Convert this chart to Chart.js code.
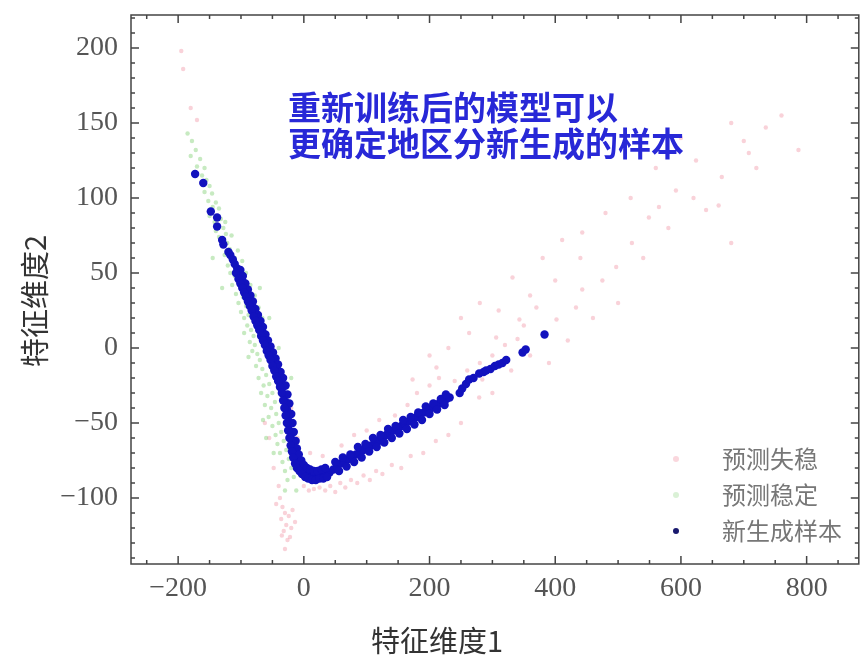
<!DOCTYPE html>
<html>
<head>
<meta charset="utf-8">
<script src="https://cdn.jsdelivr.net/npm/chart.js@4.4.0/dist/chart.umd.min.js"></script>
<style>
  html, body { margin: 0; padding: 0; background: #fff; }
  #wrap { position: relative; width: 863px; height: 656px; }
</style>
</head>
<body>
<div id="wrap"><canvas id="chart"></canvas></div>
<script>
// t-SNE style scatter: retrained model vs. newly generated samples

const seriesLabels = ['预测失稳', '预测稳定', '新生成样本'];
const xTickValues = [-200, 0, 200, 400, 600, 800];
const yTickValues = [-100, -50, 0, 50, 100, 150, 200];
const xTitle = '特征维度1';
const yTitle = '特征维度2';
const noteLines = ['重新训练后的模型可以', '更确定地区分新生成的样本'];

// 预测失稳 (pale red)
const unstablePoints = [
  [-195, 198], [-192, 186], [-170, 152], [-180, 160],
  [-38, -100], [-34, -106], [-30, -110], [-36, -114], [-28, -118], [-32, -122], [-24, -112],
  [-20, -120], [-26, -128], [-30, -134], [-18, -108], [-40, -92], [-22, -126], [-35, -125],
  [-14, -116], [-44, -104],
  [0, -92], [8, -95], [16, -94], [25, -93], [34, -95], [42, -92], [50, -96], [58, -90],
  [66, -93], [75, -88], [85, -90], [95, -85], [105, -88], [115, -82], [125, -84], [140, -78],
  [155, -80], [170, -72], [190, -70], [210, -62], [230, -58], [250, -50],
  [60, -65], [80, -58], [100, -55], [120, -48], [145, -45], [165, -38], [180, -30], [200, -25],
  [215, -20], [240, -22], [260, -15], [280, -10], [300, -5], [320, 2], [340, 6],
  [-55, -60], [-62, -50], [-48, -80], [-20, -40], [-10, -60], [10, -70], [30, -72],
  [173, -21], [211, -13], [263, 10], [279, -33], [284, -21], [306, 7], [332, 47], [343, 19],
  [370, 27], [402, 19], [411, 72], [433, 27], [443, 39], [475, 45], [443, 77], [497, 54],
  [522, 70], [549, 87], [565, 94], [592, 105], [624, 125], [640, 92], [665, 114], [708, 130],
  [735, 147], [700, 138], [787, 132], [760, 155], [680, 150], [600, 140], [560, 120], [520, 100],
  [480, 90], [440, 60], [400, 45], [380, 60], [360, 35], [420, 5], [460, 20], [500, 30],
  [540, 60], [580, 80], [620, 100], [660, 95], [720, 120], [680, 70], [300, -30], [330, -15],
  [360, -5], [390, -10], [350, 15], [310, 25], [280, 30], [250, 20], [230, 0], [200, -5]
];

// 预测稳定 (pale green)
const stablePoints = [
  [-185, 143], [-178, 138], [-172, 132], [-180, 128], [-165, 126], [-170, 121], [-158, 120],
  [-162, 115], [-155, 112], [-150, 108], [-158, 104], [-146, 103], [-152, 98], [-140, 97],
  [-145, 94], [-135, 93], [-150, 88], [-142, 84], [-132, 86], [-128, 80], [-140, 78],
  [-135, 74], [-124, 76], [-130, 68], [-122, 70], [-118, 66], [-126, 62], [-115, 58],
  [-121, 55], [-110, 60],
  [-117, 50], [-110, 48], [-105, 44], [-114, 42], [-100, 40], [-108, 36], [-97, 34],
  [-104, 30], [-92, 28], [-100, 24], [-95, 20], [-88, 22], [-90, 15], [-84, 12], [-95, 10],
  [-80, 8], [-86, 4], [-78, 2], [-82, -2], [-74, -4], [-88, -6],
  [-70, -8], [-76, -12], [-66, -14], [-72, -20], [-60, -18], [-64, -25], [-55, -24],
  [-68, -30], [-58, -32], [-50, -30], [-62, -38], [-52, -40], [-46, -36], [-56, -46],
  [-44, -44], [-50, -52], [-40, -50], [-45, -58], [-36, -56], [-42, -64], [-32, -62],
  [-38, -70], [-28, -68], [-34, -76], [-24, -74], [-30, -82], [-20, -80], [-26, -88], [-16, -86],
  [-60, -60], [-65, -48], [-48, -70], [-30, -95], [-12, -95], [-70, 40], [-55, 20], [-40, 0],
  [-20, -20], [-130, 40], [-145, 60],
  [-125, 84], [-115, 75], [-105, 65], [-98, 58], [-92, 50], [-85, 42], [-78, 35], [-72, 27], [-66, 20]
];

// 新生成样本 (blue)
const newSamples = [
  [-173, 116], [-160, 110], [-148, 91], [-138, 87], [-138, 81], [-130, 72], [-128, 69],
  [-120, 64], [-117, 62], [-113, 59], [-110, 56],
  [-106, 53], [-103, 50], [-100, 47], [-98, 45], [-95, 42], [-92, 38], [-90, 36], [-87, 33],
  [-84, 30], [-82, 28], [-79, 25], [-76, 22], [-74, 19], [-71, 16], [-68, 13], [-65, 10],
  [-62, 7], [-59, 3], [-56, 0], [-53, -3], [-51, -6], [-48, -9], [-45, -12], [-42, -16],
  [-39, -19], [-36, -22], [-33, -26], [-31, -31], [-29, -36], [-27, -41], [-25, -46],
  [-23, -51], [-21, -56], [-19, -61], [-17, -66], [-15, -69], [-13, -72], [-11, -75],
  [-8, -77], [-5, -79], [-2, -81], [1, -83], [4, -84], [8, -85], [12, -86], [16, -86],
  [21, -86], [26, -85], [31, -84], [36, -84], [41, -83],
  [-101, 52], [-97, 48], [-93, 43], [-89, 39], [-85, 35], [-81, 31], [-77, 26], [-73, 22],
  [-69, 18], [-65, 14], [-61, 9], [-57, 5], [-53, 1], [-49, -3], [-45, -7], [-41, -11],
  [-37, -16], [-33, -20], [-29, -25], [-26, -31], [-23, -37], [-20, -44], [-18, -50],
  [-16, -56], [-13, -62], [-11, -67], [-8, -71], [-4, -75], [0, -78], [5, -80], [10, -81],
  [16, -82], [22, -82], [28, -81], [34, -80],
  [-108, 50], [-104, 46], [-101, 43], [-98, 40], [-95, 37], [-92, 34], [-89, 31], [-86, 28],
  [-83, 25], [-80, 21], [-77, 18], [-74, 15], [-71, 12], [-68, 8], [-65, 5], [-62, 2],
  [-59, -2], [-56, -5], [-53, -8], [-50, -12], [-47, -15], [-44, -19], [-41, -22], [-38, -26],
  [-35, -30], [-33, -35], [-31, -40], [-29, -45], [-27, -50], [-25, -55], [-23, -60],
  [-21, -65], [-19, -69], [-17, -73], [-14, -77], [-11, -80], [-7, -82], [-3, -84], [2, -86],
  [7, -87], [13, -88], [19, -88], [25, -87], [31, -87], [37, -86],
  [47, -81], [53, -79], [59, -77], [65, -76], [71, -74], [77, -73], [83, -71], [89, -70],
  [95, -68], [101, -66], [107, -65], [113, -63], [119, -62], [125, -60], [131, -58],
  [137, -57], [143, -55], [149, -54], [155, -52], [161, -51], [167, -49], [173, -48],
  [179, -46], [185, -44], [191, -43], [197, -41], [203, -40], [209, -38], [215, -37],
  [221, -35], [227, -34], [232, -33],
  [50, -76], [62, -73], [74, -71], [86, -66], [98, -64], [110, -60], [122, -58], [134, -54],
  [146, -52], [158, -48], [170, -46], [182, -43], [194, -39], [206, -37], [218, -34], [226, -31],
  [56, -82], [68, -79], [80, -76], [92, -73], [104, -69], [116, -66], [128, -63], [140, -60],
  [152, -57], [164, -54], [176, -51], [188, -48], [200, -44], [212, -41], [224, -38],
  [248, -30], [252, -27], [258, -24], [263, -21], [270, -20], [279, -17], [286, -16],
  [290, -15], [297, -14], [304, -12], [310, -11], [316, -10], [322, -8], [348, -3], [353, -1],
  [383, 9]
];

const seriesColors = ['rgba(235, 95, 120, 0.28)', 'rgba(70, 185, 50, 0.3)', 'rgb(18, 18, 190)'];
const legendColors = ['rgba(235, 95, 120, 0.25)', 'rgba(70, 185, 50, 0.2)', 'rgb(25, 25, 110)'];

const toXY = pts => pts.map(p => ({ x: p[0], y: p[1] }));
const fmt = v => (v < 0 ? '\u2212' + Math.abs(v) : String(v));

const decorPlugin = {
  id: 'decor',
  afterDraw(chart) {
    const { ctx, chartArea: a, scales: { x, y } } = chart;
    ctx.save();

    // box frame with inward ticks on all four sides
    ctx.strokeStyle = '#444';
    ctx.lineWidth = 1.5;
    ctx.strokeRect(a.left, a.top, a.right - a.left, a.bottom - a.top);
    ctx.beginPath();
    for (let v = -250; v <= 850; v += 50) {
      const px = x.getPixelForValue(v);
      const len = v % 200 === 0 ? 8 : 4;
      ctx.moveTo(px, a.bottom); ctx.lineTo(px, a.bottom - len);
      ctx.moveTo(px, a.top); ctx.lineTo(px, a.top + len);
    }
    for (let v = -140; v <= 220; v += 10) {
      const py = y.getPixelForValue(v);
      const len = v % 50 === 0 ? 8 : 4;
      ctx.moveTo(a.left, py); ctx.lineTo(a.left + len, py);
      ctx.moveTo(a.right, py); ctx.lineTo(a.right - len, py);
    }
    ctx.stroke();

    // axis titles
    ctx.fillStyle = '#333';
    ctx.font = '29px "Noto Sans CJK SC", sans-serif';
    ctx.textAlign = 'center';
    ctx.textBaseline = 'middle';
    ctx.fillText(xTitle, 437, 641);
    ctx.save();
    ctx.translate(35, 301);
    ctx.rotate(-Math.PI / 2);
    ctx.fillText(yTitle, 0, 0);
    ctx.restore();

    // annotation
    ctx.fillStyle = 'rgb(40, 40, 215)';
    ctx.font = 'bold 33px "Noto Sans CJK SC", sans-serif';
    ctx.textAlign = 'left';
    noteLines.forEach((t, i) => ctx.fillText(t, 288, 107 + i * 36));

    // legend, inside lower right
    ctx.font = '24px "Noto Sans CJK SC", sans-serif';
    seriesLabels.forEach((label, i) => {
      const ly = 459 + i * 36;
      ctx.fillStyle = legendColors[i];
      ctx.beginPath();
      ctx.arc(676, ly, 3, 0, Math.PI * 2);
      ctx.fill();
      ctx.fillStyle = '#777';
      ctx.fillText(label, 722, ly);
    });
    ctx.restore();
  }
};

new Chart(document.getElementById('chart'), {
  type: 'scatter',
  data: {
    datasets: [
      { label: seriesLabels[0], data: toXY(unstablePoints), backgroundColor: seriesColors[0],
        pointRadius: 2.2, pointBorderWidth: 0, order: 2 },
      { label: seriesLabels[1], data: toXY(stablePoints), backgroundColor: seriesColors[1],
        pointRadius: 2.2, pointBorderWidth: 0, order: 1 },
      { label: seriesLabels[2], data: toXY(newSamples), backgroundColor: seriesColors[2],
        pointRadius: 4.2, pointBorderWidth: 0, order: 0 }
    ]
  },
  options: {
    responsive: true,
    maintainAspectRatio: false,
    animation: false,
    layout: { padding: { top: 15, right: 3, left: 0, bottom: 0 } },
    plugins: { legend: { display: false }, tooltip: { enabled: false } },
    scales: {
      x: {
        min: -275,
        max: 883,
        grid: { display: false, drawTicks: false },
        border: { display: false },
        afterBuildTicks: s => { s.ticks = xTickValues.map(v => ({ value: v })); },
        afterFit: s => { s.height = 92; s.paddingLeft = 0; s.paddingRight = 0; },
        ticks: {
          color: '#555',
          padding: 8,
          maxRotation: 0,
          font: { family: '"Liberation Serif", serif', size: 28 },
          callback: fmt
        }
      },
      y: {
        min: -144,
        max: 222,
        grid: { display: false, drawTicks: false },
        border: { display: false },
        afterBuildTicks: s => { s.ticks = yTickValues.map(v => ({ value: v })); },
        afterFit: s => { s.width = 131; s.paddingTop = 0; s.paddingBottom = 0; },
        ticks: {
          color: '#555',
          padding: 13,
          font: { family: '"Liberation Serif", serif', size: 28 },
          callback: fmt
        }
      }
    }
  },
  plugins: [decorPlugin]
});
</script>
</body>
</html>
